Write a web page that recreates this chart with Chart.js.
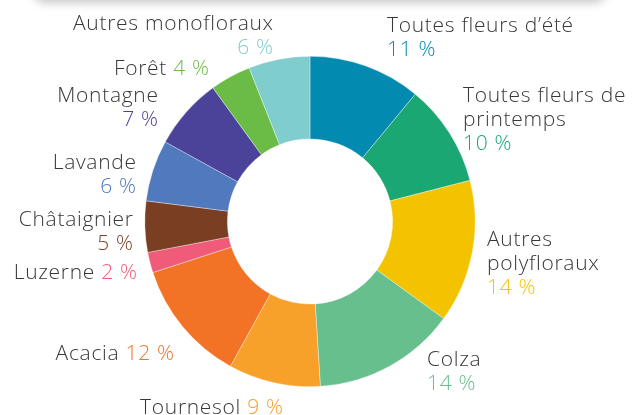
<!DOCTYPE html>
<html lang="fr">
<head>
<meta charset="utf-8">
<script src="https://cdn.jsdelivr.net/npm/chart.js@4"></script>
<style>
    html, body { margin: 0; padding: 0; background: #fff; overflow: hidden; }
    #contenedor { position: relative; width: 633px; height: 415px; }
    #carte {
        position: absolute; left: 32px; right: 26px; top: -40px; height: 40px;
        background: #fff; border-radius: 14px;
        box-shadow: 0 3px 10px rgba(0, 0, 0, 0.22);
    }
    #graficoMiel { position: absolute; left: 0; top: 0; }
</style>
</head>
<body>
<div id="contenedor">
    <div id="carte"></div>
    <canvas id="graficoMiel" width="633" height="415"></canvas>
</div>
<script>
// ===================================== Données ==================
var categorias = [
    "Toutes fleurs d’été", "Toutes fleurs de printemps", "Autres polyfloraux", "Colza",
    "Tournesol", "Acacia", "Luzerne", "Châtaignier", "Lavande", "Montagne", "Forêt",
    "Autres monofloraux"
];
var porcentajes = [11, 10, 14, 14, 9, 12, 2, 5, 6, 7, 4, 6];

var colores = [
    "#028AB0", "#1BA774", "#F4C300", "#66BF8D", "#F7A02A", "#F27226",
    "#EF5B78", "#7A3F22", "#5079BE", "#4A4399", "#6BBC47", "#80CDCD"
];


// ===================================== Placement des étiquettes ==================
// lineas = texte en gris, mismaLinea = le % suit le nom sur la même ligne
// dx / dy = décalage depuis le centre du donut (ligne de base de la 1re ligne)
var etiquetas = [
    { lineas: ["Toutes fleurs d’été"], align: "left", dx: 77, dy: -190, mismaLinea: false },
    { lineas: ["Toutes fleurs de", "printemps"], align: "left", dx: 153, dy: -120, mismaLinea: false },
    { lineas: ["Autres", "polyfloraux"], align: "left", dx: 177, dy: 24.5, mismaLinea: false },
    { lineas: ["Colza"], align: "left", dx: 117, dy: 144.5, mismaLinea: false },
    { lineas: ["Tournesol"], align: "right", dx: -27, dy: 192, mismaLinea: true },
    { lineas: ["Acacia"], align: "right", dx: -136, dy: 138, mismaLinea: true },
    { lineas: ["Luzerne"], align: "right", dx: -173, dy: 57, mismaLinea: true },
    { lineas: ["Châtaignier"], align: "right", dx: -177, dy: 4.5, mismaLinea: false },
    { lineas: ["Lavande"], align: "right", dx: -174, dy: -53, mismaLinea: false },
    { lineas: ["Montagne"], align: "right", dx: -152, dy: -120, mismaLinea: false },
    { lineas: ["Forêt"], align: "right", dx: -101, dy: -146.5, mismaLinea: true },
    { lineas: ["Autres monofloraux"], align: "right", dx: -37, dy: -192, mismaLinea: false }
];

var FUENTE = "300 21px 'Open Sans', Lato, sans-serif";
var ESPACIADO = 0.7;
var INTERLINEA = 24;
var GRIS = "#383838";


// ===================================== Plugin étiquettes ==================
var pluginEtiquetas = {
    id: "etiquetasMiel",
    afterDatasetsDraw: function (chart) {
        var ctx = chart.ctx;
        var arcos = chart.getDatasetMeta(0).data;
        if (!arcos.length) return;
        var cx = arcos[0].x;
        var cy = arcos[0].y;

        ctx.save();
        ctx.font = FUENTE;
        ctx.letterSpacing = ESPACIADO + "px";
        ctx.textBaseline = "alphabetic";

        // le letterSpacing ajoute un espace après le dernier caractère
        function dibujar(texto, x, y, align) {
            ctx.textAlign = align;
            ctx.fillText(texto, align === "right" ? x + ESPACIADO : x, y);
        }

        etiquetas.forEach(function (et, i) {
            var pct = chart.data.datasets[0].data[i] + " %";
            var color = chart.data.datasets[0].backgroundColor[i];
            var x = cx + et.dx;
            var y = cy + et.dy;

            et.lineas.forEach(function (linea, j) {
                var yy = y + j * INTERLINEA;
                var ultima = j === et.lineas.length - 1;

                if (ultima && et.mismaLinea) {
                    var anchoNombre = ctx.measureText(linea + " ").width;
                    var anchoPct = ctx.measureText(pct).width;
                    var x0 = et.align === "left" ? x : x + ESPACIADO - anchoNombre - anchoPct;
                    ctx.fillStyle = GRIS;
                    dibujar(linea, x0, yy, "left");
                    ctx.fillStyle = color;
                    dibujar(pct, x0 + anchoNombre, yy, "left");
                } else {
                    ctx.fillStyle = GRIS;
                    dibujar(linea, x, yy, et.align);
                }
            });

            if (!et.mismaLinea) {
                ctx.fillStyle = color;
                dibujar(pct, x, y + et.lineas.length * INTERLINEA, et.align);
            }
        });

        ctx.restore();
    }
};


// ===================================== Graphique donut ==================
var chartMiel = new Chart(document.getElementById("graficoMiel"), {
    type: "doughnut",
    data: {
        labels: categorias,
        datasets: [{
            data: porcentajes,
            backgroundColor: colores,
            borderColor: "rgba(255, 255, 255, 0.6)",
            borderWidth: 0.6
        }]
    },
    options: {
        responsive: false,
        animation: false,
        cutout: "50%",
        layout: {
            padding: { top: 56, bottom: 28, left: 0, right: 13 }
        },
        plugins: {
            legend: { display: false },
            tooltip: { enabled: false }
        }
    },
    plugins: [pluginEtiquetas]
});
</script>
</body>
</html>
